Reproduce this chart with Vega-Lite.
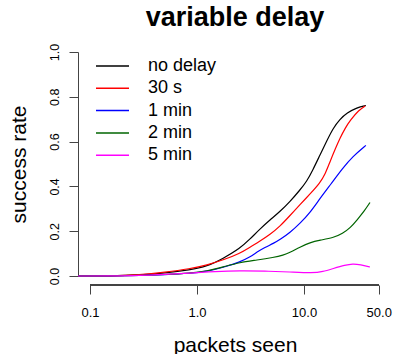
{
  "$schema": "https://vega.github.io/schema/vega-lite/v6.json",
  "width": 314,
  "height": 224,
  "autosize": {"type": "none"},
  "padding": {"left": 78, "top": 52, "right": 2, "bottom": 78},
  "background": "white",
  "title": {"text": "variable delay", "fontSize": 27, "fontWeight": "bold", "font": "Liberation Sans", "anchor": "middle", "frame": "group", "offset": 11, "color": "black"},
  "config": {"view": {"stroke": null}, "font": "Liberation Sans"},
  "data": {"values": [
    {"delay": "no delay", "packets": 0.0772, "rate": 0},
    {"delay": "no delay", "packets": 0.154, "rate": 0},
    {"delay": "no delay", "packets": 0.293, "rate": 0.004},
    {"delay": "no delay", "packets": 0.5, "rate": 0.013},
    {"delay": "no delay", "packets": 0.86, "rate": 0.027},
    {"delay": "no delay", "packets": 1.24, "rate": 0.043},
    {"delay": "no delay", "packets": 1.75, "rate": 0.078},
    {"delay": "no delay", "packets": 2.52, "rate": 0.123},
    {"delay": "no delay", "packets": 3.13, "rate": 0.165},
    {"delay": "no delay", "packets": 3.88, "rate": 0.21},
    {"delay": "no delay", "packets": 4.81, "rate": 0.25},
    {"delay": "no delay", "packets": 5.97, "rate": 0.288},
    {"delay": "no delay", "packets": 7.4, "rate": 0.332},
    {"delay": "no delay", "packets": 9.18, "rate": 0.384},
    {"delay": "no delay", "packets": 10.6, "rate": 0.422},
    {"delay": "no delay", "packets": 12.1, "rate": 0.473},
    {"delay": "no delay", "packets": 14.1, "rate": 0.54},
    {"delay": "no delay", "packets": 16.5, "rate": 0.607},
    {"delay": "no delay", "packets": 18.7, "rate": 0.659},
    {"delay": "no delay", "packets": 21.7, "rate": 0.7},
    {"delay": "no delay", "packets": 25.2, "rate": 0.728},
    {"delay": "no delay", "packets": 31.3, "rate": 0.752},
    {"delay": "no delay", "packets": 37.9, "rate": 0.761},
    {"delay": "30 s", "packets": 0.0772, "rate": 0},
    {"delay": "30 s", "packets": 0.154, "rate": 0},
    {"delay": "30 s", "packets": 0.293, "rate": 0.005},
    {"delay": "30 s", "packets": 0.5, "rate": 0.0165},
    {"delay": "30 s", "packets": 0.86, "rate": 0.032},
    {"delay": "30 s", "packets": 1.24, "rate": 0.049},
    {"delay": "30 s", "packets": 1.75, "rate": 0.071},
    {"delay": "30 s", "packets": 2.52, "rate": 0.101},
    {"delay": "30 s", "packets": 3.13, "rate": 0.129},
    {"delay": "30 s", "packets": 3.88, "rate": 0.156},
    {"delay": "30 s", "packets": 4.81, "rate": 0.185},
    {"delay": "30 s", "packets": 5.97, "rate": 0.222},
    {"delay": "30 s", "packets": 7.4, "rate": 0.27},
    {"delay": "30 s", "packets": 9.18, "rate": 0.319},
    {"delay": "30 s", "packets": 11.4, "rate": 0.366},
    {"delay": "30 s", "packets": 14.1, "rate": 0.415},
    {"delay": "30 s", "packets": 15.8, "rate": 0.455},
    {"delay": "30 s", "packets": 17.5, "rate": 0.51},
    {"delay": "30 s", "packets": 19.6, "rate": 0.567},
    {"delay": "30 s", "packets": 21.7, "rate": 0.615},
    {"delay": "30 s", "packets": 24.3, "rate": 0.661},
    {"delay": "30 s", "packets": 27.2, "rate": 0.696},
    {"delay": "30 s", "packets": 32.6, "rate": 0.741},
    {"delay": "30 s", "packets": 37.3, "rate": 0.759},
    {"delay": "1 min", "packets": 0.0772, "rate": 0},
    {"delay": "1 min", "packets": 0.154, "rate": 0},
    {"delay": "1 min", "packets": 0.293, "rate": 0.002},
    {"delay": "1 min", "packets": 0.5, "rate": 0.006},
    {"delay": "1 min", "packets": 0.86, "rate": 0.012},
    {"delay": "1 min", "packets": 1.24, "rate": 0.02},
    {"delay": "1 min", "packets": 1.75, "rate": 0.038},
    {"delay": "1 min", "packets": 2.52, "rate": 0.0625},
    {"delay": "1 min", "packets": 3.13, "rate": 0.085},
    {"delay": "1 min", "packets": 3.64, "rate": 0.107},
    {"delay": "1 min", "packets": 4.3, "rate": 0.127},
    {"delay": "1 min", "packets": 5.2, "rate": 0.146},
    {"delay": "1 min", "packets": 5.97, "rate": 0.163},
    {"delay": "1 min", "packets": 7.4, "rate": 0.194},
    {"delay": "1 min", "packets": 9.18, "rate": 0.235},
    {"delay": "1 min", "packets": 11.4, "rate": 0.283},
    {"delay": "1 min", "packets": 14.1, "rate": 0.346},
    {"delay": "1 min", "packets": 17.9, "rate": 0.411},
    {"delay": "1 min", "packets": 23.0, "rate": 0.481},
    {"delay": "1 min", "packets": 28.5, "rate": 0.533},
    {"delay": "1 min", "packets": 37.9, "rate": 0.583},
    {"delay": "2 min", "packets": 0.0772, "rate": 0},
    {"delay": "2 min", "packets": 0.154, "rate": 0},
    {"delay": "2 min", "packets": 0.293, "rate": 0.002},
    {"delay": "2 min", "packets": 0.5, "rate": 0.0065},
    {"delay": "2 min", "packets": 0.86, "rate": 0.0125},
    {"delay": "2 min", "packets": 1.24, "rate": 0.022},
    {"delay": "2 min", "packets": 1.75, "rate": 0.04},
    {"delay": "2 min", "packets": 2.52, "rate": 0.061},
    {"delay": "2 min", "packets": 3.64, "rate": 0.071},
    {"delay": "2 min", "packets": 5.2, "rate": 0.083},
    {"delay": "2 min", "packets": 6.4, "rate": 0.093},
    {"delay": "2 min", "packets": 7.4, "rate": 0.105},
    {"delay": "2 min", "packets": 9.18, "rate": 0.129},
    {"delay": "2 min", "packets": 11.4, "rate": 0.15},
    {"delay": "2 min", "packets": 14.1, "rate": 0.16},
    {"delay": "2 min", "packets": 18.7, "rate": 0.17},
    {"delay": "2 min", "packets": 23.0, "rate": 0.19},
    {"delay": "2 min", "packets": 27.2, "rate": 0.216},
    {"delay": "2 min", "packets": 31.3, "rate": 0.25},
    {"delay": "2 min", "packets": 36.6, "rate": 0.29},
    {"delay": "2 min", "packets": 41.4, "rate": 0.328},
    {"delay": "5 min", "packets": 0.0772, "rate": 0},
    {"delay": "5 min", "packets": 0.154, "rate": 0},
    {"delay": "5 min", "packets": 0.293, "rate": 0.002},
    {"delay": "5 min", "packets": 0.5, "rate": 0.007},
    {"delay": "5 min", "packets": 0.86, "rate": 0.013},
    {"delay": "5 min", "packets": 1.47, "rate": 0.02},
    {"delay": "5 min", "packets": 2.52, "rate": 0.024},
    {"delay": "5 min", "packets": 4.3, "rate": 0.022},
    {"delay": "5 min", "packets": 7.4, "rate": 0.018},
    {"delay": "5 min", "packets": 12.1, "rate": 0.013},
    {"delay": "5 min", "packets": 15.0, "rate": 0.019},
    {"delay": "5 min", "packets": 18.7, "rate": 0.033},
    {"delay": "5 min", "packets": 24.3, "rate": 0.049},
    {"delay": "5 min", "packets": 28.5, "rate": 0.055},
    {"delay": "5 min", "packets": 33.8, "rate": 0.051},
    {"delay": "5 min", "packets": 41.4, "rate": 0.04}
  ]},
  "layer": [
    {
      "mark": {"type": "line", "interpolate": "basis", "strokeWidth": 1.2},
      "encoding": {
        "x": {"field": "packets", "type": "quantitative",
              "scale": {"type": "log", "domain": [0.0772, 66.5], "nice": false},
              "axis": {"values": [0.1, 1, 10, 50], "format": ".1f", "grid": false, "domain": false,
                       "offset": 9, "tickSize": 9, "tickColor": "#444", "labelPadding": 12,
                       "labelFontSize": 13, "labelColor": "black", "labelFlush": false, "labelOverlap": false,
                       "title": "packets seen", "titleFontSize": 21, "titleFontWeight": "normal", "titleColor": "black",
                       "titleY": 66, "titleBaseline": "alphabetic"}},
        "y": {"field": "rate", "type": "quantitative",
              "scale": {"domain": [0, 1], "nice": false, "zero": false},
              "axis": {"values": [0, 0.2, 0.4, 0.6, 0.8, 1], "format": ".1f", "grid": false,
                       "domainColor": "#444", "tickColor": "#444", "tickSize": 9,
                       "labelAngle": 270, "labelAlign": "center", "labelBaseline": "alphabetic", "labelPadding": 11,
                       "labelFontSize": 12.5, "labelColor": "black",
                       "title": "success rate", "titleFontSize": 21, "titleFontWeight": "normal", "titleColor": "black",
                       "titleAngle": 270, "titleX": -53, "titleY": 112, "titleAlign": "center", "titleBaseline": "alphabetic"}},
        "color": {"field": "delay", "type": "nominal",
                  "scale": {"domain": ["no delay", "30 s", "1 min", "2 min", "5 min"],
                            "range": ["#000000", "#FF0000", "#0000FF", "#006400", "#FF00FF"]},
                  "legend": {"orient": "none", "legendX": 17, "legendY": 3, "title": null,
                             "symbolType": "stroke", "symbolSize": 1089, "symbolStrokeWidth": 1.5,
                             "labelFontSize": 18, "labelOffset": 18, "labelColor": "black", "labelLimit": 300,
                             "clipHeight": 22, "rowPadding": 0.3, "padding": 0}}
      }
    },
    {
      "mark": {"type": "rule", "color": "#444", "strokeWidth": 1},
      "encoding": {"x": {"datum": 0.1}, "x2": {"datum": 50}, "y": {"datum": -0.0402}}
    }
  ]
}
